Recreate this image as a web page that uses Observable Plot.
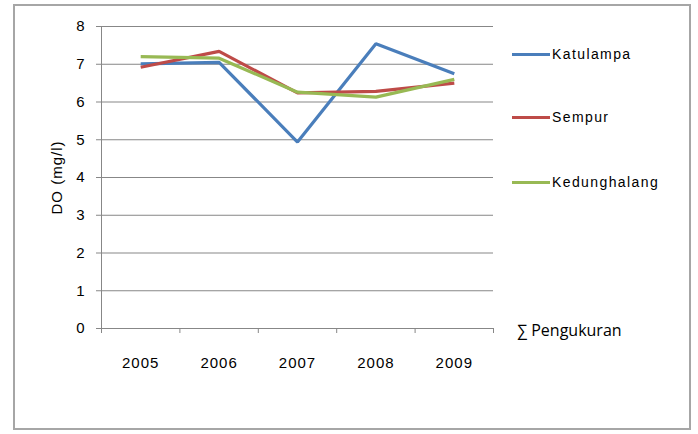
<!DOCTYPE html>
<html>
<head>
<meta charset="utf-8">
<script src="https://cdn.jsdelivr.net/npm/d3@7"></script>
<script src="https://cdn.jsdelivr.net/npm/@observablehq/plot@0.6"></script>
<style>
  html, body { margin: 0; padding: 0; background: #fff; }
  #wrap { position: relative; width: 698px; height: 434px; font-family: "Liberation Sans", Arial, sans-serif; }
  #border { position: absolute; left: 13px; top: 4px; width: 674px; height: 422px; border: 2px solid #a6a6a6; }
  #chart { position: absolute; left: 0; top: 0; }
  #chart svg text { letter-spacing: 1px; }
  .leg { position: absolute; left: 512px; font-size: 14px; letter-spacing: 1.4px; color: #000; display: flex; align-items: center; }
  .leg span.sw { display: inline-block; width: 38px; height: 3px; margin-right: 2px; }
  #xtitle { position: absolute; left: 517px; top: 319px; font-family: "Open Sans", "DejaVu Sans", sans-serif; font-size: 16px; color: #000; }
</style>
</head>
<body>
<div id="wrap">
  <div id="border"></div>
  <div id="chart"></div>
  <div id="legend"></div>
  <div id="xtitle"></div>
</div>
<script>
const years = ["2005", "2006", "2007", "2008", "2009"];
const seriesNames = ["Katulampa", "Sempur", "Kedunghalang"];
const katulampa = [7.01, 7.05, 4.94, 7.54, 6.75];
const sempur = [6.92, 7.34, 6.24, 6.28, 6.50];
const kedunghalang = [7.20, 7.16, 6.26, 6.13, 6.60];
const colors = ["#4A7EBB", "#BE4B48", "#98B954"];
const yTicks = [0, 1, 2, 3, 4, 5, 6, 7, 8];
const yLabel = "DO (mg/l)";
const xTitle = "\u2211 Pengukuran";

const values = [katulampa, sempur, kedunghalang];
const data = [];
seriesNames.forEach((s, si) => {
  years.forEach((yr, i) => data.push({series: s, idx: i + 0.5, year: yr, value: values[si][i]}));
});

const bounds = d3.range(years.length + 1);
const centers = years.map((_, i) => i + 0.5);

const plot = Plot.plot({
  width: 698,
  height: 434,
  marginLeft: 101,
  marginRight: 205,
  marginTop: 26,
  marginBottom: 106,
  style: {fontFamily: "'Liberation Sans', Arial, sans-serif", fontSize: "15px", color: "#000", background: "transparent"},
  x: {type: "linear", domain: [0, years.length]},
  y: {domain: [0, 8]},
  color: {domain: seriesNames, range: colors},
  marks: [
    Plot.ruleY(yTicks, {stroke: "#878787", strokeWidth: 1}),
    Plot.ruleX([0], {stroke: "#878787", strokeWidth: 1}),
    Plot.axisY({ticks: yTicks, tickSize: 5, tickPadding: 11, stroke: "#878787", label: yLabel, labelAnchor: "center", labelOffset: 50, labelArrow: "none", fontSize: 15}),
    Plot.axisX({ticks: bounds, tickSize: 5, tickFormat: () => "", stroke: "#878787", label: null}),
    Plot.axisX({ticks: centers, tickSize: 0, tickPadding: 29, tickFormat: d => years[Math.round(d - 0.5)], label: null, fontSize: 15}),
    Plot.line(data, {x: "idx", y: "value", z: "series", stroke: "series", strokeWidth: 3.2, strokeLinejoin: "miter", strokeLinecap: "butt"})
  ]
});
document.getElementById("chart").appendChild(plot);

const legendTops = [55, 118, 183];
const legend = document.getElementById("legend");
seriesNames.forEach((s, i) => {
  const d = document.createElement("div");
  d.className = "leg";
  d.style.top = (legendTops[i] - 9) + "px";
  d.innerHTML = `<span class="sw" style="background:${colors[i]}"></span><span>${s}</span>`;
  legend.appendChild(d);
});
document.getElementById("xtitle").textContent = xTitle;
</script>
</body>
</html>
